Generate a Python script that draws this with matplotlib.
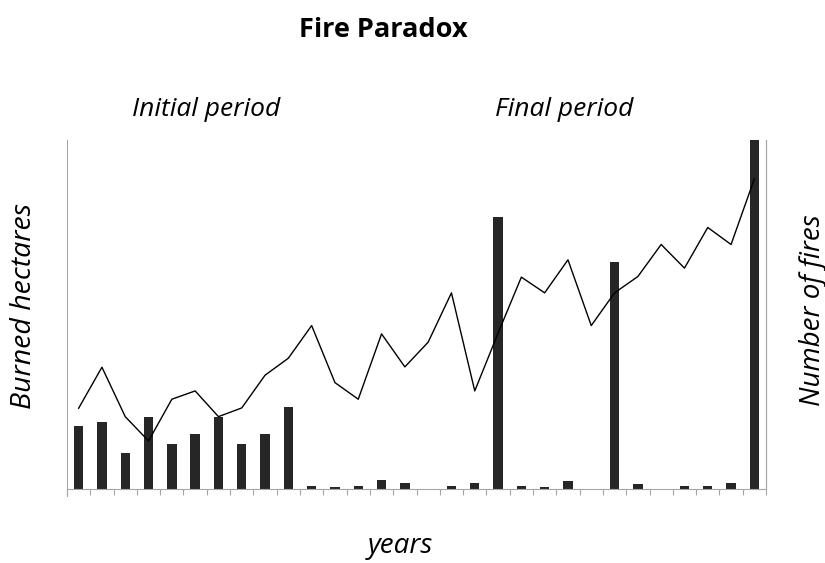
import matplotlib.pyplot as plt
import numpy as np

# relative values (no scale shown on the axes)
years = list(range(30))
hectares = [63, 67, 36, 72, 45, 55, 72, 45, 55, 82,
            3.3, 2.3, 3.3, 9.3, 6.7, 0, 3.3, 6.7, 272, 3.3,
            2, 8, 0, 226.7, 5, 0, 3.3, 3.3, 6.7, 349]
fires = [81, 122, 72.6, 48.3, 90, 98.3, 72.6, 81.3, 114, 131,
         163.6, 106.6, 90, 155.3, 122.3, 147, 196.3, 98.3, 156, 212,
         196.3, 229.3, 163.6, 196.3, 212.6, 244.6, 221, 261.6, 244.6, 310.3]

plt.rcParams['font.family'] = ['Open Sans', 'DejaVu Sans']

fig = plt.figure(figsize=(8.25, 5.63), dpi=100)
ax = fig.add_axes([0.0812, 0.1309, 0.8473, 0.6204])
ax2 = ax.twinx()

x = np.array(years)
ax.bar(x, hectares, width=0.4, color='#262626', zorder=2)
ax2.plot(x, fires, color='black', lw=1.0, zorder=3)

ax.set_xlim(-0.5, len(years) - 0.5)
ax.set_ylim(0, 349)
ax2.set_ylim(0, 349)

grey = '#a6a6a6'
for a in (ax, ax2):
    a.spines['top'].set_visible(False)
    a.set_yticks([])
for side in ('left', 'right', 'bottom'):
    ax.spines[side].set_color(grey)
    ax2.spines[side].set_color(grey)
ax2.spines['left'].set_visible(False)
ax2.spines['bottom'].set_visible(False)
ax.spines['left'].set_visible(False)

ax.set_xticks(np.arange(-0.5, len(years)))
ax.set_xticklabels([])
ax.tick_params(axis='x', length=4.5, color=grey, direction='out')
# left axis line drawn down to the tick mark, like the original
ax.plot([-0.5, -0.5], [-0.018 * 349, 349], color=grey, lw=0.8, clip_on=False, zorder=1)

fig.text(0.465, 0.947, 'Fire Paradox', ha='center', va='center',
         fontsize=19.5, fontweight='bold')
fig.text(0.25, 0.805, 'Initial period', ha='center', va='center',
         fontsize=19, style='italic')
fig.text(0.684, 0.805, 'Final period', ha='center', va='center',
         fontsize=19, style='italic')
fig.text(0.029, 0.456, 'Burned hectares', ha='center', va='center',
         fontsize=20.5, style='italic', rotation=90)
fig.text(0.985, 0.449, 'Number of fires', ha='center', va='center',
         fontsize=20, style='italic', rotation=90)
fig.text(0.485, 0.03, 'years', ha='center', va='center',
         fontsize=20, style='italic')

fig.savefig('out.png', dpi=100)
